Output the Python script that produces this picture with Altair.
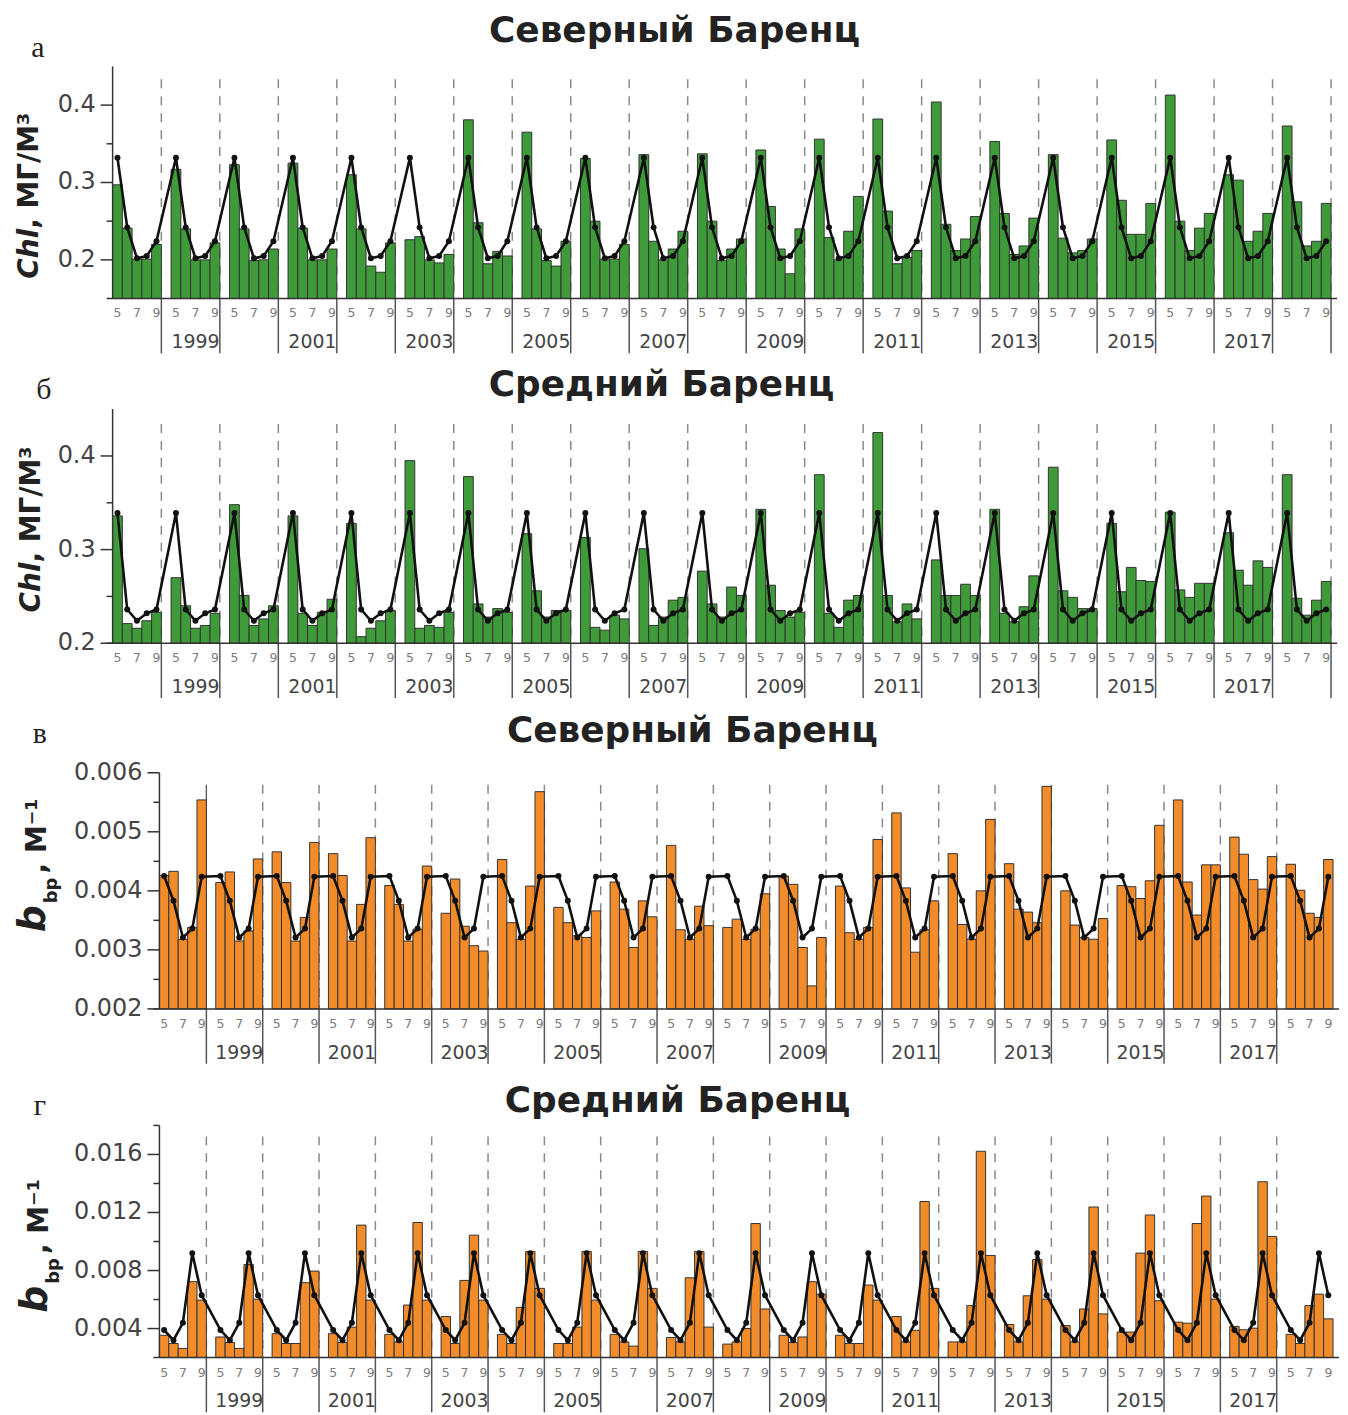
import altair as alt
import pandas as pd

years = list(range(1998, 2019))
months = [5, 6, 7, 8, 9]

# а: Chl, Северный Баренц (months 5..9 per year)
chl_north = [
    [0.297, 0.241, 0.201, 0.201, 0.220], [0.317, 0.240, 0.200, 0.200, 0.222],
    [0.323, 0.240, 0.199, 0.200, 0.214], [0.325, 0.241, 0.200, 0.200, 0.214],
    [0.310, 0.240, 0.192, 0.184, 0.222], [0.226, 0.230, 0.200, 0.196, 0.207],
    [0.381, 0.248, 0.195, 0.211, 0.205], [0.365, 0.240, 0.199, 0.192, 0.224],
    [0.331, 0.250, 0.201, 0.201, 0.220], [0.336, 0.224, 0.200, 0.214, 0.237],
    [0.337, 0.250, 0.199, 0.214, 0.227], [0.342, 0.269, 0.214, 0.182, 0.240],
    [0.356, 0.229, 0.200, 0.237, 0.282], [0.382, 0.263, 0.195, 0.203, 0.212],
    [0.404, 0.246, 0.212, 0.227, 0.256], [0.353, 0.260, 0.207, 0.218, 0.254],
    [0.336, 0.228, 0.209, 0.212, 0.227], [0.355, 0.277, 0.233, 0.233, 0.273],
    [0.413, 0.250, 0.212, 0.241, 0.260], [0.310, 0.303, 0.224, 0.237, 0.260],
    [0.373, 0.275, 0.218, 0.224, 0.273],
]
clim_chl_north = [0.332, 0.242, 0.202, 0.205, 0.224]

# б: Chl, Средний Баренц
chl_mid = [
    [0.336, 0.221, 0.216, 0.224, 0.233], [0.270, 0.240, 0.216, 0.219, 0.232],
    [0.348, 0.251, 0.219, 0.226, 0.240], [0.336, 0.232, 0.219, 0.233, 0.247],
    [0.328, 0.207, 0.216, 0.224, 0.235], [0.395, 0.216, 0.219, 0.217, 0.233],
    [0.378, 0.242, 0.228, 0.237, 0.233], [0.317, 0.256, 0.228, 0.235, 0.235],
    [0.313, 0.217, 0.214, 0.230, 0.226], [0.301, 0.219, 0.228, 0.246, 0.249],
    [0.277, 0.242, 0.228, 0.260, 0.251], [0.343, 0.262, 0.235, 0.228, 0.233],
    [0.380, 0.232, 0.217, 0.246, 0.251], [0.425, 0.251, 0.223, 0.242, 0.226],
    [0.289, 0.251, 0.251, 0.263, 0.251], [0.343, 0.232, 0.223, 0.239, 0.272],
    [0.388, 0.256, 0.249, 0.237, 0.237], [0.328, 0.255, 0.281, 0.267, 0.266],
    [0.340, 0.257, 0.249, 0.264, 0.264], [0.318, 0.278, 0.262, 0.288, 0.281],
    [0.380, 0.248, 0.230, 0.246, 0.266],
]
clim_chl_mid = [0.339, 0.236, 0.224, 0.232, 0.236]

# в: bbp, Северный Баренц
bbp_north = [
    [0.00426, 0.00433, 0.00318, 0.00338, 0.00554], [0.00414, 0.00432, 0.00315, 0.00332, 0.00454],
    [0.00466, 0.00414, 0.00315, 0.00355, 0.00482], [0.00463, 0.00426, 0.00315, 0.00377, 0.00490],
    [0.00409, 0.00377, 0.00315, 0.00335, 0.00442], [0.00362, 0.00420, 0.00340, 0.00307, 0.00298],
    [0.00453, 0.00346, 0.00318, 0.00408, 0.00568], [0.00372, 0.00346, 0.00324, 0.00321, 0.00366],
    [0.00415, 0.00369, 0.00304, 0.00383, 0.00356], [0.00477, 0.00334, 0.00318, 0.00374, 0.00341],
    [0.00338, 0.00352, 0.00318, 0.00335, 0.00395], [0.00425, 0.00411, 0.00304, 0.00239, 0.00321],
    [0.00408, 0.00329, 0.00318, 0.00338, 0.00487], [0.00532, 0.00405, 0.00296, 0.00334, 0.00383],
    [0.00463, 0.00343, 0.00318, 0.00400, 0.00521], [0.00446, 0.00369, 0.00364, 0.00346, 0.00577],
    [0.00400, 0.00342, 0.00321, 0.00318, 0.00353], [0.00409, 0.00407, 0.00387, 0.00417, 0.00511],
    [0.00554, 0.00415, 0.00359, 0.00444, 0.00444], [0.00491, 0.00462, 0.00419, 0.00403, 0.00458],
    [0.00445, 0.00401, 0.00362, 0.00355, 0.00453],
]
clim_bbp_north = [0.00425, 0.00383, 0.00321, 0.00336, 0.00424]

# г: bbp, Средний Баренц
bbp_mid = [
    [0.00354, 0.00297, 0.00263, 0.00723, 0.00596], [0.00342, 0.00304, 0.00263, 0.00841, 0.00603],
    [0.00365, 0.00297, 0.00297, 0.00716, 0.00796], [0.00365, 0.00304, 0.00410, 0.01113, 0.00596],
    [0.00360, 0.00308, 0.00562, 0.01131, 0.00596], [0.00483, 0.00297, 0.00732, 0.01044, 0.00596],
    [0.00360, 0.00297, 0.00546, 0.00932, 0.00677], [0.00297, 0.00297, 0.00410, 0.00932, 0.00596],
    [0.00360, 0.00308, 0.00279, 0.00932, 0.00677], [0.00338, 0.00308, 0.00750, 0.00932, 0.00410],
    [0.00293, 0.00308, 0.00400, 0.01124, 0.00535], [0.00354, 0.00304, 0.00342, 0.00723, 0.00637],
    [0.00354, 0.00297, 0.00297, 0.00700, 0.00596], [0.00483, 0.00308, 0.00388, 0.01276, 0.00677],
    [0.00308, 0.00308, 0.00558, 0.01622, 0.00904], [0.00428, 0.00308, 0.00626, 0.00875, 0.00603],
    [0.00421, 0.00308, 0.00535, 0.01238, 0.00501], [0.00376, 0.00376, 0.00920, 0.01183, 0.00592],
    [0.00444, 0.00437, 0.01124, 0.01313, 0.00603], [0.00415, 0.00392, 0.00403, 0.01412, 0.01035],
    [0.00360, 0.00297, 0.00558, 0.00637, 0.00467],
]
clim_bbp_mid = [0.0039, 0.0032, 0.0044, 0.0092, 0.0063]

year_labels = [str(y) for y in years if y % 2 == 1]
month_tick_labels = ["5", "7", "9"]

FONT = "DejaVu Sans"
GREEN = "#3f9b3a"
ORANGE = "#f28c2b"
W, H = 1334, 1407


def build_df(values, clim):
    rows = []
    for i, yr in enumerate(years):
        for j, m in enumerate(months):
            x0 = 6 * i + j
            rows.append({"year": yr, "month": m, "x0": x0, "x1": x0 + 1,
                         "xc": x0 + 0.5, "v": values[i][j], "clim": clim[j]})
    return pd.DataFrame(rows)


def one(text=""):
    return pd.DataFrame({"t": [text]})


def text_layer(txt, x, y, **kw):
    return alt.Chart(one(txt)).mark_text(**kw).encode(
        text="t:N", x=alt.value(x), y=alt.value(y))


def make_panel(values, clim, color, dmin, dmax, major, minor, fmt,
               L, R, T, B, title, title_xy, label, label_xy, ytitle_parts,
               dashed_idx, solid_idx, sep_idx, dash_top):
    df = build_df(values, clim)
    xs = alt.Scale(domain=[0, 125], range=[L, R], nice=False, zero=False)
    ys = alt.Scale(domain=[dmin, dmax], range=[B, T], nice=False, zero=False)

    def X(f):
        return alt.X(f, scale=xs, axis=None)

    def Y(f):
        return alt.Y(f, scale=ys, axis=None)

    layers = []
    bdf = pd.DataFrame({"xb": [6 * i + 5 for i in dashed_idx]})
    layers.append(alt.Chart(bdf).mark_rule(color="#8a8a8a", strokeWidth=1.5,
                                           strokeDash=[9, 8]).encode(
        x=X("xb:Q"), y=alt.value(T + dash_top), y2=alt.value(B)))
    if solid_idx:
        sdf = pd.DataFrame({"xb": [6 * i + 5 for i in solid_idx]})
        layers.append(alt.Chart(sdf).mark_rule(color="#555", strokeWidth=1.3).encode(
            x=X("xb:Q"), y=alt.value(T + dash_top), y2=alt.value(B)))

    sepdf = pd.DataFrame({"xb": [6 * i + 5 for i in sep_idx]})
    layers.append(alt.Chart(sepdf).mark_rule(color="#555", strokeWidth=1.5).encode(
        x=X("xb:Q"), y=alt.value(B), y2=alt.value(B + 55)))

    layers.append(alt.Chart(df).mark_bar(color=color, stroke="#333", strokeWidth=1).encode(
        x=X("x0:Q"), x2="x1:Q", y=Y("v:Q"), y2=alt.datum(dmin)))

    # axes drawn as marks
    layers.append(alt.Chart(one()).mark_rule(color="#333", strokeWidth=1.5).encode(
        x=alt.value(L - 6), x2=alt.value(R + 6), y=alt.value(B)))
    layers.append(alt.Chart(one()).mark_rule(color="#333", strokeWidth=1.5).encode(
        x=alt.value(L), y=alt.value(T), y2=alt.value(B)))
    majdf = pd.DataFrame({"t": major})
    layers.append(alt.Chart(majdf).mark_rule(color="#333", strokeWidth=1.5).encode(
        y=Y("t:Q"), x=alt.value(L - 12), x2=alt.value(L)))
    layers.append(alt.Chart(majdf).mark_text(
        font=FONT, fontSize=24, color="#444", align="right", baseline="middle").encode(
        y=Y("t:Q"), x=alt.value(L - 17), text=alt.Text("t:Q", format=fmt)))
    mindf = pd.DataFrame({"t": minor})
    layers.append(alt.Chart(mindf).mark_rule(color="#333", strokeWidth=1.5).encode(
        y=Y("t:Q"), x=alt.value(L - 6), x2=alt.value(L)))

    mdf = pd.DataFrame({
        "xm": [6 * i + k for i in range(len(years)) for k in (0.5, 2.5, 4.5)],
        "lab": [lab for _ in years for lab in month_tick_labels]})
    layers.append(alt.Chart(mdf).mark_text(
        font=FONT, fontSize=12.5, color="#7a7a7a", baseline="middle").encode(
        x=X("xm:Q"), y=alt.value(B + 15), text="lab:N"))

    ydf = pd.DataFrame({"label": year_labels,
                        "xc": [6 * years.index(int(s)) + 2.5 for s in year_labels]})
    layers.append(alt.Chart(ydf).mark_text(font=FONT, fontSize=19, color="#444",
                                           baseline="alphabetic").encode(
        x=X("xc:Q"), y=alt.value(B + 50), text="label:N"))

    layers.append(alt.Chart(df).mark_line(color="#111", strokeWidth=2.6).encode(
        x=X("xc:Q"), y=Y("clim:Q")))
    layers.append(alt.Chart(df).mark_circle(color="#111", size=36, opacity=1).encode(
        x=X("xc:Q"), y=Y("clim:Q")))

    layers.append(text_layer(title, title_xy[0], title_xy[1], font=FONT, fontSize=36,
                             fontWeight="bold", color="#222", baseline="alphabetic",
                             align="center"))
    layers.append(text_layer(label, label_xy[0], label_xy[1], font="Liberation Serif",
                             fontSize=30, color="#222", baseline="alphabetic",
                             align="center"))
    for (txt, px, py, size, style, align) in ytitle_parts:
        layers.append(text_layer(txt, px, py, font=FONT, fontSize=size, fontWeight="bold",
                                 fontStyle=style, color="#222", angle=270, align=align,
                                 baseline="alphabetic"))
    return layers


all_idx = list(range(21))

layers = []
layers += make_panel(
    chl_north, clim_chl_north, GREEN, 0.15, 0.45, [0.2, 0.3, 0.4], [0.25, 0.35], ".1f",
    105, 1328, 56, 289,
    "Северный Баренц", (669, 31), "а", (30, 47),
    [("Chl", 30, 219, 28, "italic", "right"), (", МГ/М³", 30, 219, 28, "normal", "left")],
    all_idx, [], all_idx, 13)

layers += make_panel(
    chl_mid, clim_chl_mid, GREEN, 0.2, 0.45, [0.2, 0.3, 0.4], [0.25, 0.35], ".1f",
    105, 1328, 400, 635,
    "Средний Баренц", (656, 387), "б", (36, 390),
    [("Chl", 32, 554, 28, "italic", "right"), (", МГ/М³", 32, 554, 28, "normal", "left")],
    all_idx, [], all_idx, 15)

layers += make_panel(
    bbp_north, clim_bbp_north, ORANGE, 0.002, 0.006, [0.002, 0.003, 0.004, 0.005, 0.006],
    [0.0025, 0.0035, 0.0045, 0.0055], ".3f",
    152, 1330, 765, 1002,
    "Северный Баренц", (687, 734), "в", (32, 735),
    [("b", 37, 925, 38, "italic", "left"), ("bp", 49, 896, 18, "normal", "left"),
     (", М⁻¹", 38, 866, 28, "normal", "left")],
    list(range(1, 20)), [0], list(range(20)), 12)

layers += make_panel(
    bbp_mid, clim_bbp_mid, ORANGE, 0.002, 0.018, [0.004, 0.008, 0.012, 0.016],
    [0.006, 0.010, 0.014, 0.018], ".3f",
    152, 1330, 1119, 1352,
    "Средний Баренц", (672, 1105), "г", (32, 1109),
    [("b", 39, 1307, 38, "italic", "left"), ("bp", 51, 1278, 18, "normal", "left"),
     (", М⁻¹", 40, 1248, 28, "normal", "left")],
    list(range(20)), [], list(range(20)), 11)

chart = alt.layer(*layers).resolve_scale(
    x="independent", y="independent"
).properties(
    width=W, height=H,
    padding={"left": 0, "top": 0, "right": 0, "bottom": 0},
).configure_view(strokeWidth=0)

chart.save("out.html", embed_options={"renderer": "svg", "actions": False})
